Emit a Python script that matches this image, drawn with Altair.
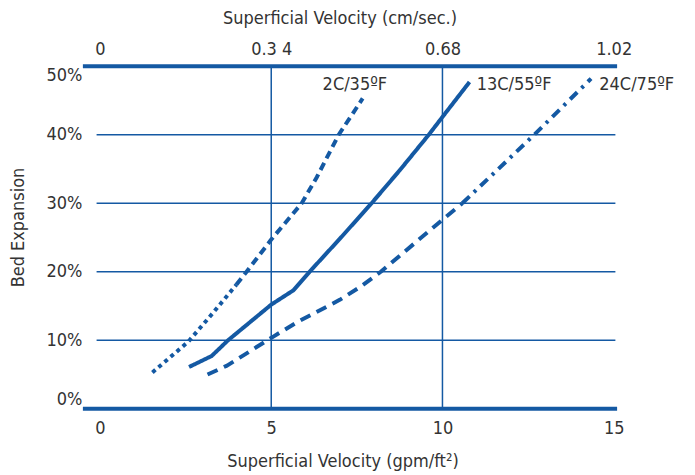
import altair as alt
import pandas as pd

# ---- data ----
c2_x = [1.53, 2.58, 3.3, 3.98, 4.28, 5.0, 5.89, 6.33, 6.97, 7.38, 7.67]
c2_y = [5.3, 9.8, 14.0, 18.1, 20.0, 24.7, 30.0, 33.8, 40.0, 43.1, 45.3]

c13_x = [2.6, 3.26, 3.74, 5.0, 5.65, 6.12, 7.0, 7.93, 8.75, 9.6, 10.0, 10.79]
c13_y = [6.1, 7.7, 10.0, 15.2, 17.3, 20.0, 24.8, 30.0, 34.8, 40.0, 42.6, 47.7]

c24_x = [3.14, 3.71, 5.05, 5.78, 7.0, 7.6, 8.2, 10.0, 10.58, 12.68, 14.34]
c24_y = [5.0, 6.3, 10.5, 12.7, 15.9, 17.8, 20.0, 27.6, 30.0, 40.0, 48.2]

series_labels = ["2C/35ºF", "13C/55ºF", "24C/75ºF"]
label_x = [6.5, 11.0, 14.58]
label_y = [47.2, 47.3, 47.2]

x_ticks = [0, 5, 10, 15]
top_tick_labels = ["0", "0.3 4", "0.68", "1.02"]
y_ticks = [0, 10, 20, 30, 40, 50]

FONT = "DejaVu Sans Condensed"
FS = 18
BLUE = "#1459a3"
TEXT = "#333333"

# ---- build tables ----
rows = []
def add(seg, xs, ys):
    for i, (a, b) in enumerate(zip(xs, ys)):
        rows.append({"seg": seg, "x": a, "y": b, "i": i})

add("2C_dot", c2_x[:4], c2_y[:4])
add("2C_dash", c2_x[3:], c2_y[3:])
add("13C", c13_x, c13_y)
add("24C_dash", c24_x[:9], c24_y[:9])
add("24C_dashdot", c24_x[8:], c24_y[8:])
curves = pd.DataFrame(rows)

seg_domain = ["2C_dot", "2C_dash", "13C", "24C_dash", "24C_dashdot"]
seg_dash = [[4, 4], [8, 5], [1, 0], [11, 7], [10, 6, 3, 6]]

labels = pd.DataFrame({"x": label_x, "y": label_y, "t": series_labels})

thick = pd.DataFrame({"y": [0, 50], "x1": [-0.5, -0.5], "x2": [15.1, 15.1]})
thin = pd.DataFrame({"y": [10, 20, 30, 40], "x1": [-0.1] * 4, "x2": [15.05] * 4})
vert = pd.DataFrame({"x": [5, 10], "y1": [0, 0], "y2": [50, 50]})

xscale = alt.Scale(domain=[-0.5, 15.1], nice=False, zero=False)
yscale = alt.Scale(domain=[0, 50], nice=False)

mapping = ", ".join(f"{v}: '{t}'" for v, t in zip(x_ticks, top_tick_labels))
top_expr = "{" + mapping + "}[datum.value]"

bottom_axis = alt.Axis(
    orient="bottom", values=x_ticks, title="Superficial Velocity (gpm/ft²)",
    domain=False, ticks=False, grid=False, labelPadding=11,
    titleX=260, titleY=53, titleBaseline="middle", titleAlign="center",
)
top_axis = alt.Axis(
    orient="top", values=x_ticks, title="Superficial Velocity (cm/sec.)",
    labelExpr=top_expr, domain=False, ticks=False, grid=False, labelPadding=8,
    titleX=257, titleY=-48, titleBaseline="middle", titleAlign="center",
)
y_axis = alt.Axis(
    orient="left", values=y_ticks, labelExpr="datum.value + '%'",
    title="Bed Expansion", domain=False, ticks=False, grid=False,
    labelPadding=1, labelFlush=True, labelFlushOffset=0,
    titleX=-64, titleY=161, titleBaseline="middle", titleAlign="center",
)

def Y(field):
    return alt.Y(field, scale=yscale, axis=y_axis)

thick_layer = alt.Chart(thick).mark_rule(color=BLUE, strokeWidth=4).encode(
    x=alt.X("x1:Q", scale=xscale, axis=None), x2="x2:Q",
    y=Y("y:Q"),
)
thin_layer = alt.Chart(thin).mark_rule(color=BLUE, strokeWidth=1.5).encode(
    x=alt.X("x1:Q", scale=xscale, axis=None), x2="x2:Q",
    y=Y("y:Q"),
)
vert_layer = alt.Chart(vert).mark_rule(color=BLUE, strokeWidth=1.5).encode(
    x=alt.X("x:Q", scale=xscale, axis=top_axis),
    y=Y("y1:Q"), y2="y2:Q",
)
curve_layer = alt.Chart(curves).mark_line(
    color=BLUE, strokeWidth=4, strokeCap="butt", strokeJoin="round"
).encode(
    x=alt.X("x:Q", scale=xscale, axis=bottom_axis),
    y=Y("y:Q"),
    detail="seg:N",
    order="i:Q",
    strokeDash=alt.StrokeDash("seg:N", scale=alt.Scale(domain=seg_domain, range=seg_dash), legend=None),
)
text_layer = alt.Chart(labels).mark_text(
    align="left", baseline="middle", font=FONT, fontSize=FS, color=TEXT
).encode(
    x=alt.X("x:Q", scale=xscale, axis=None),
    y=Y("y:Q"),
    text="t:N",
)

chart = alt.layer(
    thin_layer, vert_layer, thick_layer, curve_layer, text_layer
).resolve_axis(x="independent").properties(
    width=535, height=343,
    autosize=alt.AutoSizeParams(type="none"),
    padding={"left": 75, "top": 58, "right": 70, "bottom": 70},
).configure_view(stroke=None).configure_axis(
    labelFont=FONT, titleFont=FONT, labelFontSize=FS, titleFontSize=FS,
    labelColor=TEXT, titleColor=TEXT, titleFontWeight="normal",
)

chart.save("out.html", embed_options={"renderer": "svg", "actions": False})
